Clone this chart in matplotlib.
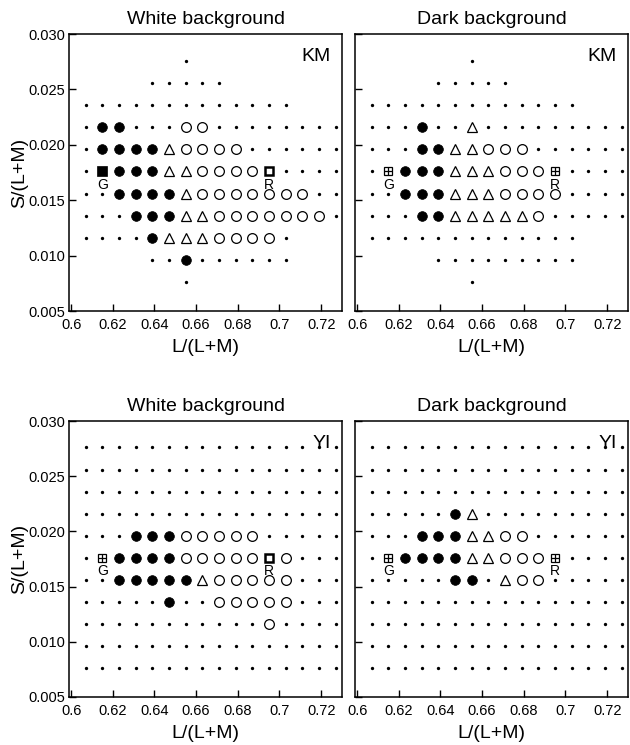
import numpy as np
import matplotlib
matplotlib.use("Agg")
import matplotlib.pyplot as plt

plt.rcParams['font.family'] = ['Liberation Sans', 'DejaVu Sans']

# grid of test chromaticities
lm_x = [0.607, 0.615, 0.623, 0.631, 0.639, 0.647, 0.655, 0.663,
        0.671, 0.679, 0.687, 0.695, 0.703, 0.711, 0.719, 0.727]
s_y = [0.0276, 0.0256, 0.0236, 0.0216, 0.0196, 0.0176,
       0.0156, 0.0136, 0.0116, 0.0096, 0.0076]  # top row first

# response per grid point: '.' tested, '@' green, 'o' red, '^' ambiguous,
# 'S' G filled square, 'Q' R open square, 'B' boxed plus
km_white = [
    "      .         ",
    "    .....       ",
    ".............   ",
    ".@@...oo........",
    ".@@@@^oooo......",
    ".S@@@^^ooooQ....",
    "..@@@@^ooooooo..",
    "...@@@^^ooooooo.",
    "....@^^^oooo.   ",
    "    ..@......   ",
    "      .         ",
]
km_dark = [
    "      .         ",
    "    .....       ",
    ".............   ",
    "...@..^.........",
    "...@@^^ooo......",
    ".B@@@^^^oooB....",
    "..@@@^^^oooo....",
    "...@@^^^^^o.....",
    ".............   ",
    "    .........   ",
    "      .         ",
]
yi_white = [
    "................",
    "................",
    "................",
    "................",
    "...@@@ooooo.....",
    ".B@@@@oooooQo...",
    "..@@@@@^ooooo...",
    ".....@..ooooo...",
    "...........o....",
    "................",
    "................",
]
yi_dark = [
    "................",
    "................",
    "................",
    ".....@^.........",
    "...@@@^^oo......",
    ".B@@@@^^oooB....",
    ".....@@.^oo.....",
    "................",
    "................",
    "................",
    "................",
]

panels = [
    ("White background", "KM", km_white),
    ("Dark background", "KM", km_dark),
    ("White background", "YI", yi_white),
    ("Dark background", "YI", yi_dark),
]
g_label = (0.615, 0.0176)
r_label = (0.695, 0.0176)

styles = {
    '.': dict(marker='o', ms=2.4, mfc='black', mec='black', mew=0),
    '@': dict(marker='o', ms=7.0, mfc='black', mec='black', mew=0.5),
    'o': dict(marker='o', ms=7.0, mfc='white', mec='black', mew=0.9),
    '^': dict(marker='^', ms=7.5, mfc='white', mec='black', mew=0.9),
    'S': dict(marker='s', ms=6.5, mfc='black', mec='black', mew=0.5),
    'Q': dict(marker='s', ms=6.3, mfc='white', mec='black', mew=1.8),
    'B': dict(marker='s', ms=6.3, mfc='white', mec='black', mew=0.9),
}

fig = plt.figure(figsize=(6.3, 7.45), dpi=100)
W, H = 630, 745
boxes = [(69, 34, 273, 277), (355, 34, 273, 277),
         (69, 421, 273, 276), (355, 421, 273, 276)]

for (title, subj, grid), (l, t, w, h) in zip(panels, boxes):
    ax = fig.add_axes([l / W, 1 - (t + h) / H, w / W, h / H])
    for code, st in styles.items():
        xs, ys = [], []
        for r, row in enumerate(grid):
            for c, ch in enumerate(row):
                if ch == code:
                    xs.append(lm_x[c])
                    ys.append(s_y[r])
        if xs:
            ax.plot(xs, ys, linestyle='none', zorder=3, **st)
            if code == 'B':
                ax.plot(xs, ys, linestyle='none', marker='+', ms=6.3,
                        mec='black', mew=0.9, zorder=4)
    for lab, (x, y) in (("G", g_label), ("R", r_label)):
        ax.annotate(lab, (x, y), xytext=(0, -4.5), textcoords='offset points',
                    ha='center', va='top', fontsize=10, zorder=5)
    ax.text(0.96, 0.95, subj, transform=ax.transAxes, ha='right', va='top',
            fontsize=14)
    ax.set_title(title, fontsize=14, pad=7)
    ax.set_xlim(0.599, 0.730)
    ax.set_ylim(0.005, 0.030)
    ax.set_xticks([0.6, 0.62, 0.64, 0.66, 0.68, 0.7, 0.72])
    ax.set_xticklabels(["0.6", "0.62", "0.64", "0.66", "0.68", "0.7", "0.72"])
    ax.set_yticks([0.005, 0.010, 0.015, 0.020, 0.025, 0.030])
    ax.tick_params(direction='in', length=5, width=1, labelsize=10.5)
    ax.tick_params(axis='x', pad=5)
    ax.tick_params(axis='y', pad=3)
    ax.set_xlabel("L/(L+M)", fontsize=14, labelpad=5)
    if l < 100:
        ax.set_yticklabels(["0.005", "0.010", "0.015", "0.020", "0.025", "0.030"])
        ax.set_ylabel("S/(L+M)", fontsize=14, labelpad=0)
    else:
        ax.set_yticklabels([])
    for sp in ax.spines.values():
        sp.set_linewidth(1.1)

fig.savefig("out.png", dpi=100)
